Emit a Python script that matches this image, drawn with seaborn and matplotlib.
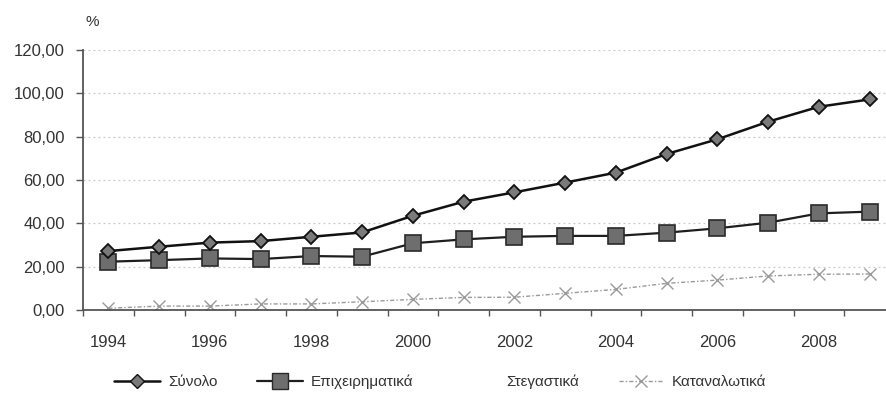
import matplotlib
matplotlib.use("Agg")
import matplotlib.pyplot as plt
from matplotlib.lines import Line2D
import numpy as np
import pandas as pd
import seaborn as sns

years = list(range(1994, 2010))
synolo = [27.2, 29.2, 31.1, 31.8, 33.8, 35.8, 43.5, 50.0, 54.3, 58.8, 63.4, 72.0, 78.8, 86.9, 93.8, 97.2]
epixeirimatika = [22.3, 23.0, 23.8, 23.5, 24.9, 24.6, 30.8, 32.6, 33.8, 34.2, 34.2, 35.7, 37.7, 40.3, 44.6, 45.4]
katanalotika = [0.8, 1.8, 1.8, 2.8, 2.8, 3.8, 4.9, 5.8, 5.9, 7.7, 9.5, 12.3, 13.8, 15.7, 16.5, 16.6]
y_ticks = [0, 20, 40, 60, 80, 100, 120]
x_label_years = [1994, 1996, 1998, 2000, 2002, 2004, 2006, 2008]

sns.set_theme(style="white")
plt.rcParams["font.family"] = ["Liberation Sans", "DejaVu Sans"]

fig = plt.figure(figsize=(8.86, 4.03), dpi=100)
ax = fig.add_axes([83 / 886, 93 / 403, (895 - 83) / 886, 260 / 403])

df = pd.DataFrame({"year": years, "Σύνολο": synolo,
                   "Επιχειρηματικά": epixeirimatika, "Καταναλωτικά": katanalotika})

# horizontal dotted grid
for v in y_ticks[1:]:
    ax.axhline(v, color="#c8c8c8", lw=0.9, ls=(0, (1.5, 2.5)), zorder=0)

sns.lineplot(data=df, x="year", y="Καταναλωτικά", ax=ax, color="#9a9a9a", lw=1.0,
             linestyle=(0, (3, 1.5, 1, 1.5)), marker="x", markersize=8,
             markeredgewidth=1.0, markeredgecolor="#9a9a9a", zorder=2)
sns.lineplot(data=df, x="year", y="Επιχειρηματικά", ax=ax, color="#1e1e1e", lw=1.6,
             marker="s", markersize=12, markerfacecolor="#6e6e6e",
             markeredgecolor="#2a2a2a", markeredgewidth=1.2, zorder=3)
sns.lineplot(data=df, x="year", y="Σύνολο", ax=ax, color="#111111", lw=1.8,
             marker="D", markersize=7, markerfacecolor="#7a7a7a",
             markeredgecolor="#111111", markeredgewidth=1.3, zorder=4)

ax.set_xlim(1993.5, 2009.5)
ax.set_ylim(0, 120)
ax.set_yticks(y_ticks)
ax.set_yticklabels([f"{v:.2f}".replace(".", ",") for v in y_ticks])
ax.set_xticks(x_label_years)
ax.set_xticklabels([str(y) for y in x_label_years])
ax.set_xticks(np.arange(1993.5, 2010, 1.0), minor=True)
ax.set_xlabel("")
ax.set_ylabel("")

for s in ["top", "right"]:
    ax.spines[s].set_visible(False)
for s in ["left", "bottom"]:
    ax.spines[s].set_color("#555555")
    ax.spines[s].set_linewidth(1.3)

ax.tick_params(axis="y", which="major", left=True, length=5, width=1.0,
               color="#555555", labelsize=12, labelcolor="#333333", pad=8)
ax.tick_params(axis="x", which="major", bottom=False, labelsize=12,
               labelcolor="#333333", pad=12)
ax.tick_params(axis="x", which="minor", bottom=True, length=4, width=1.0,
               color="#555555")

fig.text(85 / 886, 1 - 22 / 403, "%", fontsize=11, color="#333333",
         ha="left", va="center")

handles = [
    Line2D([], [], color="#111111", lw=1.8, marker="D", markersize=7,
           markerfacecolor="#7a7a7a", markeredgecolor="#111111"),
    Line2D([], [], color="#1e1e1e", lw=1.6, marker="s", markersize=12,
           markerfacecolor="#6e6e6e", markeredgecolor="#2a2a2a"),
    Line2D([], [], color="white", lw=1.6),
    Line2D([], [], color="#9a9a9a", lw=1.0, ls=(0, (3, 1.5, 1, 1.5)),
           marker="x", markersize=8, markeredgecolor="#9a9a9a"),
]
labels = ["Σύνολο", "Επιχειρηματικά", "Στεγαστικά", "Καταναλωτικά"]
fig.legend(handles, labels, loc="center", bbox_to_anchor=(0.497, 1 - 382 / 403),
           ncol=4, frameon=False, fontsize=11, handlelength=3.0,
           columnspacing=2.6, handletextpad=0.5, labelcolor="#333333")

fig.savefig("out.png", dpi=100)
